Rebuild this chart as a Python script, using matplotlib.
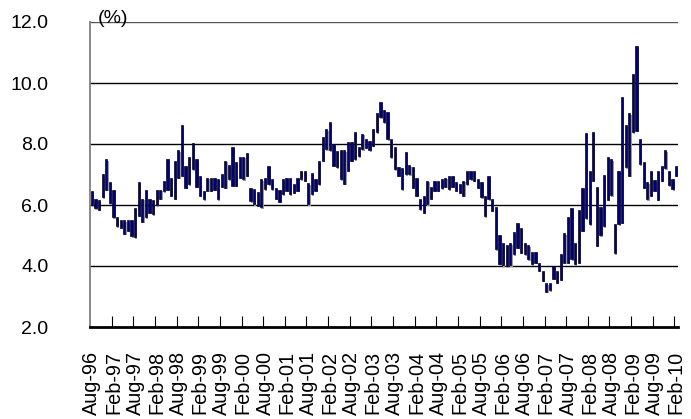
import numpy as np
import matplotlib.pyplot as plt

plt.rcParams['font.family'] = ['Liberation Sans', 'DejaVu Sans']

# monthly low / high, Aug-96 .. Feb-10
low = [6.00, 5.90, 5.85, 6.25, 6.50, 6.05, 5.60, 5.30, 5.25, 5.05,
       5.15, 4.97, 4.95, 5.65, 5.45, 5.60, 5.75, 5.70, 6.00, 6.20,
       6.45, 6.50, 6.30, 6.20, 6.90, 6.96, 6.57, 6.68, 7.18, 6.60,
       6.30, 6.19, 6.46, 6.46, 6.50, 6.19, 6.60, 6.57, 6.85, 6.63,
       6.63, 6.90, 6.85, 6.96, 6.13, 6.03, 5.97, 5.92, 6.52, 6.68,
       6.52, 6.20, 6.10, 6.36, 6.46, 6.36, 6.40, 6.46, 6.85, 6.80,
       6.03, 6.36, 6.46, 6.68, 7.45, 7.83, 7.80, 7.28, 7.23, 6.85,
       6.70, 7.12, 7.45, 7.50, 7.60, 7.83, 7.88, 7.80, 7.94, 8.38,
       8.87, 8.71, 8.16, 7.56, 7.18, 6.96, 6.52, 7.01, 7.00, 6.57,
       6.30, 5.86, 5.75, 6.03, 6.20, 6.46, 6.46, 6.55, 6.60, 6.52,
       6.60, 6.46, 6.40, 6.30, 6.68, 6.85, 6.80, 6.57, 6.25, 5.64,
       6.19, 5.81, 4.55, 4.06, 4.02, 4.00, 4.02, 4.38, 4.60, 4.44,
       4.38, 4.22, 4.06, 4.10, 3.84, 3.51, 3.15, 3.20, 3.59, 3.45,
       3.55, 4.11, 4.11, 4.22, 4.06, 4.11, 5.15, 5.56, 5.37, 6.79,
       4.66, 5.00, 5.31, 6.17, 6.32, 4.42, 5.37, 5.42, 7.23, 6.96,
       8.38, 8.43, 7.34, 6.57, 6.19, 6.30, 6.46, 6.17, 6.79, 7.20,
       6.65, 6.52, 6.96]
high = [6.45, 6.20, 6.15, 7.00, 7.50, 6.75, 6.50, 5.60, 5.50, 5.50,
        5.50, 5.50, 5.90, 6.75, 6.20, 6.50, 6.20, 6.15, 6.50, 6.50,
        6.80, 7.50, 6.90, 7.45, 7.80, 8.62, 7.28, 7.56, 8.02, 7.50,
        6.96, 6.46, 6.90, 6.90, 6.90, 6.85, 7.00, 7.45, 7.30, 7.89,
        7.40, 7.56, 7.59, 7.72, 6.57, 6.52, 6.41, 6.85, 6.90, 7.28,
        6.85, 6.57, 6.50, 6.85, 6.90, 6.90, 6.70, 6.90, 7.12, 7.10,
        6.71, 7.05, 6.85, 7.43, 8.22, 8.49, 8.71, 8.00, 7.78, 7.80,
        7.80, 8.08, 8.08, 8.40, 7.90, 8.33, 8.15, 8.10, 8.49, 9.00,
        9.39, 9.12, 9.06, 8.16, 7.89, 7.23, 7.20, 7.74, 7.30, 7.23,
        6.90, 6.19, 6.30, 6.79, 6.60, 6.80, 6.79, 6.85, 6.90, 6.96,
        6.96, 6.74, 6.70, 6.80, 7.12, 7.12, 7.12, 6.85, 6.74, 6.30,
        6.96, 6.19, 5.92, 5.00, 4.77, 4.70, 4.75, 5.10, 5.40, 5.23,
        4.74, 4.68, 4.46, 4.46, 4.09, 3.84, 3.43, 3.43, 4.00, 3.84,
        4.38, 5.07, 5.62, 5.90, 4.77, 5.83, 6.57, 8.35, 7.12, 8.40,
        6.59, 5.92, 6.98, 7.58, 7.50, 5.37, 7.12, 9.55, 8.62, 9.01,
        10.30, 11.20, 8.16, 7.42, 6.74, 7.12, 6.82, 7.12, 7.28, 7.80,
        7.12, 6.85, 7.28]

tick_labels = ['Aug-96', 'Feb-97', 'Aug-97', 'Feb-98', 'Aug-98', 'Feb-99',
               'Aug-99', 'Feb-00', 'Aug-00', 'Feb-01', 'Aug-01', 'Feb-02',
               'Aug-02', 'Feb-03', 'Aug-03', 'Feb-04', 'Aug-04', 'Feb-05',
               'Aug-05', 'Feb-06', 'Aug-06', 'Feb-07', 'Aug-07', 'Feb-08',
               'Aug-08', 'Feb-09', 'Aug-09', 'Feb-10']

low = np.array(low)
high = np.array(high)
x = np.arange(len(low))

fig = plt.figure(figsize=(6.91, 4.19), dpi=100)
ax = fig.add_axes([90/691, 1 - 327/419, 588/691, 305/419])

# shadow then bars
ax.bar(x + 0.32, high - low, bottom=low - 0.05, width=0.62,
       color='#9a9a9a', linewidth=0, zorder=2)
ax.bar(x, high - low, bottom=low, width=0.62, color='#000070',
       edgecolor='#000030', linewidth=0.5, zorder=3)

for v in [4, 6, 8, 10]:
    ax.axhline(v, color='black', lw=1.0, zorder=1)
ax.axhline(12, color='#555555', lw=1.0, zorder=1)

ax.set_xlim(-0.5, len(low) - 0.5)
ax.set_ylim(2, 12)
ax.set_yticks([2, 4, 6, 8, 10, 12])
ax.set_yticklabels(['%.1f' % v for v in [2, 4, 6, 8, 10, 12]], fontsize=14)
ax.tick_params(axis='y', length=0, pad=30)

ax.set_xticks(np.arange(0, len(low), 6))
ax.set_xticklabels(tick_labels, rotation=90, fontsize=14.3)
ax.set_xticks(np.arange(5.5, len(low) - 0.5, 6), minor=True)
ax.tick_params(axis='x', which='major', length=0, pad=17)
ax.tick_params(axis='x', which='minor', direction='in', length=8, width=0.8)

for s in ['top', 'right']:
    ax.spines[s].set_visible(False)
ax.spines['left'].set_color('#808080')
ax.spines['left'].set_linewidth(1.3)
ax.spines['bottom'].set_linewidth(2)

ax.text(1.6, 12.1, '(%)', fontsize=14, ha='left', va='center', zorder=4)

fig.savefig('out.png', dpi=100)
